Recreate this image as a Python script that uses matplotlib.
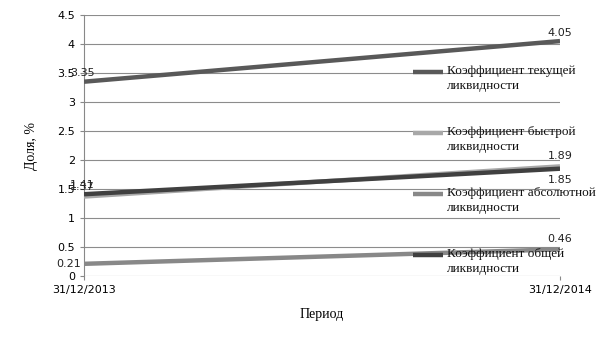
import numpy as np
import matplotlib.pyplot as plt
from matplotlib.lines import Line2D

# data
periods = ["31/12/2013", "31/12/2014"]
series_names = [
    "Коэффициент текущей\nликвидности",
    "Коэффициент быстрой\nликвидности",
    "Коэффициент абсолютной\nликвидности",
    "Коэффициент общей\nликвидности",
]
current_ratio = [3.35, 4.05]
quick_ratio = [1.37, 1.89]
absolute_ratio = [0.21, 0.46]
general_ratio = [1.41, 1.85]

colors = ["#595959", "#a8a8a8", "#888888", "#404040"]
values = [current_ratio, quick_ratio, absolute_ratio, general_ratio]

# label offsets (points) for start / end values
start_offsets = [(-10, 3), (-10, 3), (-20, 0), (-10, 3)]
end_offsets = [(0, 4), (0, 5), (0, 5), (0, -10)]

W, H = 605, 340
fig = plt.figure(figsize=(W / 100, H / 100), dpi=100)
ax = fig.add_axes([84 / W, 1 - 276 / H, 476 / W, 261 / H])

x = np.arange(len(periods))
for name, vals, c in zip(series_names, values, colors):
    ax.plot(x, vals, color=c, lw=3.2, solid_capstyle="butt", label=name, zorder=3)

for vals, so, eo in zip(values, start_offsets, end_offsets):
    ax.annotate(f"{vals[0]:.2f}", (x[0], vals[0]), xytext=so, textcoords="offset points",
                fontsize=8, color="#222222", va="bottom" if so[1] > 0 else "center")
    ax.annotate(f"{vals[1]:.2f}", (x[1], vals[1]), xytext=eo, textcoords="offset points",
                fontsize=8, color="#222222", ha="center")

ax.set_xlim(0, 1)
ax.set_ylim(0, 4.5)
ax.set_yticks(np.arange(0, 4.51, 0.5))
ax.set_yticklabels(["0", "0.5", "1", "1.5", "2", "2.5", "3", "3.5", "4", "4.5"])
ax.set_xticks(x)
ax.set_xticklabels(periods)
ax.tick_params(axis="both", labelsize=8, length=3, color="#888888", width=0.8)
ax.grid(axis="y", color="#8c8c8c", lw=0.8)
ax.set_axisbelow(True)
for s in ["top", "right", "bottom"]:
    ax.spines[s].set_visible(False)
ax.spines["left"].set_color("#888888")

ax.set_xlabel("Период", family="Liberation Serif", fontsize=10, labelpad=9)
ax.set_ylabel("Доля, %", family="Liberation Serif", fontsize=10, labelpad=14)

# legend, handle level with the first line of each label
for i, (name, c) in enumerate(zip(series_names, colors)):
    yp = 72 + 61 * i
    fig.add_artist(Line2D([413 / W, 443 / W], [1 - yp / H] * 2, color=c, lw=3.2,
                          solid_capstyle="butt", transform=fig.transFigure))
    fig.text(447 / W, 1 - (yp - 7) / H, name, family="Liberation Serif", fontsize=9.5,
             va="top", ha="left", linespacing=1.35, color="#111111")

fig.savefig("out.png", dpi=100)
